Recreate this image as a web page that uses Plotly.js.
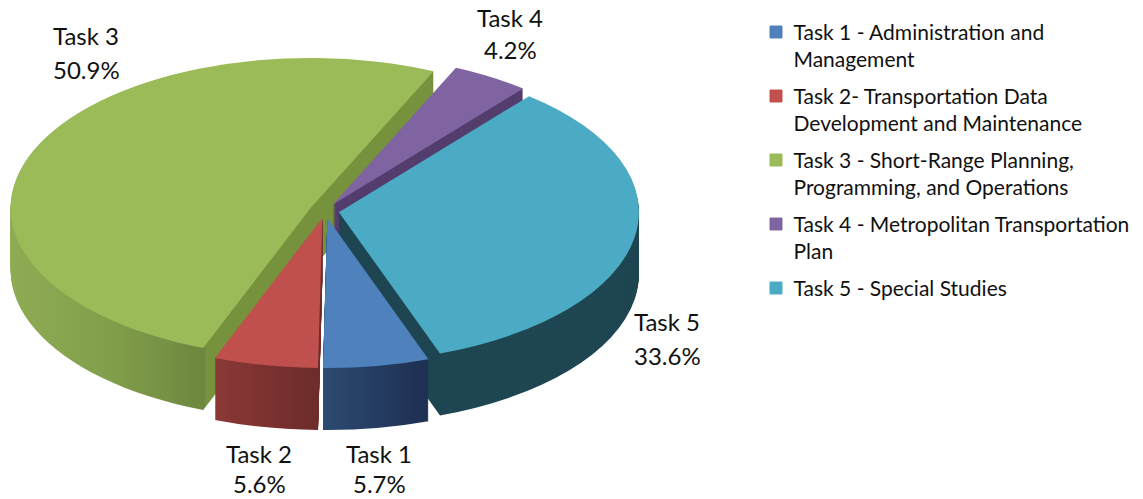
<!DOCTYPE html>
<html>
<head>
<meta charset="utf-8">
<script src="https://cdn.plot.ly/plotly-3.0.1.min.js"></script>
<style>html,body{margin:0;padding:0;background:#fff;overflow:hidden}#chart{width:1143px;height:499px}</style>
</head>
<body>
<div id="chart"></div>
<script>
// ---- data ----
const taskNames = [
  "Task 1 - Administration and<br>Management",
  "Task 2- Transportation Data<br>Development and Maintenance",
  "Task 3 - Short-Range Planning,<br>Programming, and Operations",
  "Task 4 - Metropolitan Transportation<br>Plan",
  "Task 5 - Special Studies"
];
const shortNames = ["Task 1", "Task 2", "Task 3", "Task 4", "Task 5"];
const shares = [5.7, 5.6, 50.9, 4.2, 33.6];

// ---- styles ----
const topColors = ["#4f81bd", "#c0504d", "#9bbb59", "#8064a2", "#4babc5"];
const wallColors = ["#263c64", "#772f2d", "#76923c", "#543e6e", "#1f4753"];
const explode = [0.047, 0.047, 0.052, 0.05, 0.047];
const wallStops = [
  [[0, "#2c4a72"], [1, "#1e2f52"]],
  [[0, "#8a3836"], [1, "#6c2b29"]],
  [[0, "#8fac54"], [0.25, "#809d4a"], [0.46, "#6d873e"], [0.461, "#76923c"], [1, "#76923c"]],
  null,
  null
];
const labelCentres = [[379, 453, 483], [259, 453, 483], [86, 36, 69], [510, 17, 50], [667, 321, 355]];
const W = 1143, H = 499, FONT = "Lato, 'Open Sans', sans-serif";
const LAYERS = 63, DEPTH = 62, RX = 300, SQUASH = 0.5, CX = 325, CY = 211;
const LEGEND_TOP = 32, LEGEND_STEP = 64, LEGEND_LINE = 27.3;

const traces = [];
for (let i = 0; i < LAYERS; i++) {
  const isTop = i === LAYERS - 1;
  traces.push({
    type: "pie",
    labels: taskNames,
    values: shares,
    sort: false,
    direction: "clockwise",
    rotation: 160.3,
    pull: explode,
    textinfo: "none",
    hoverinfo: "skip",
    showlegend: isTop,
    domain: {x: [0, 0.4], y: [0, 1]},
    marker: {colors: isTop ? topColors : wallColors, line: {width: 0}}
  });
}

const labelAnn = (text, x, y) => ({
  text, xref: "paper", yref: "paper", x: x / W, y: 1 - y / H,
  xanchor: "center", yanchor: "middle", showarrow: false, align: "center",
  borderpad: 0, borderwidth: 0,
  font: {family: FONT, size: 24, color: "#111"}
});

const layout = {
  width: W, height: H,
  margin: {l: 0, r: 0, t: 0, b: 0},
  paper_bgcolor: "#fff",
  showlegend: true,
  legend: {
    x: 756 / W, xanchor: "left", y: 1 - 16 / H, yanchor: "top",
    font: {family: FONT, size: 21, color: "#111"},
    bgcolor: "rgba(0,0,0,0)", traceorder: "normal"
  },
  annotations: shortNames.flatMap((n, i) => [
    labelAnn(n, labelCentres[i][0], labelCentres[i][1]),
    labelAnn(shares[i].toFixed(1) + "%", labelCentres[i][0], labelCentres[i][2])
  ])
};

Plotly.newPlot("chart", traces, layout, {displayModeBar: false, staticPlot: true}).then(gd => {
  const svg = gd.querySelector(".main-svg");
  const NS = "http://www.w3.org/2000/svg";
  const defs = svg.querySelector("defs") || svg.insertBefore(document.createElementNS(NS, "defs"), svg.firstChild);
  wallStops.forEach((stops, k) => {
    if (!stops) return;
    const g = document.createElementNS(NS, "linearGradient");
    g.setAttribute("id", "wall" + k);
    g.setAttribute("x1", "0"); g.setAttribute("x2", "1");
    g.setAttribute("y1", "0"); g.setAttribute("y2", "0");
    stops.forEach(s => {
      const st = document.createElementNS(NS, "stop");
      st.setAttribute("offset", s[0]);
      st.setAttribute("stop-color", s[1]);
      g.appendChild(st);
    });
    defs.appendChild(g);
  });

  const groups = gd.querySelectorAll(".pielayer > .trace");
  groups.forEach((grp, i) => {
    const cd0 = gd.calcdata[i][0];
    const s = RX / cd0.r;
    const dy = DEPTH * (1 - i / (LAYERS - 1));
    grp.setAttribute("transform",
      `translate(${CX},${CY + dy}) scale(${s},${s * SQUASH}) translate(${-cd0.cx},${-cd0.cy})`);
    if (i < LAYERS - 1) {
      grp.querySelectorAll(".slice").forEach((sl, k) => {
        const p = sl.querySelector("path.surface");
        if (p && wallStops[k]) p.style.fill = `url(#wall${k})`;
      });
    }
    grp.querySelectorAll("path.surface").forEach(p => { p.style.strokeWidth = 0; });
  });

  // legend spacing as in the reference
  const sb = gd.querySelector(".legend .scrollbox");
  if (sb) sb.removeAttribute("clip-path");
  gd.querySelectorAll(".legend .traces").forEach((t, i) => {
    const m = /translate\(([^,]+),\s*([^)]+)\)/.exec(t.getAttribute("transform"));
    const pt = t.querySelector(".legendpoints path");
    pt.style.stroke = pt.style.fill; pt.style.strokeWidth = "1px";
    const r = pt.getBoundingClientRect();
    const target = LEGEND_TOP + LEGEND_STEP * i;
    const y = parseFloat(m[2]) + target - (r.top + r.height / 2);
    t.setAttribute("transform", `translate(${m[1]},${y})`);
    const tx = t.querySelector(".legendtext");
    const lines = taskNames[i].split("<br>").length;
    tx.setAttribute("transform", `translate(-2.5,${(lines - 1) * LEGEND_LINE / 2})`);
  });
});
</script>
</body>
</html>
